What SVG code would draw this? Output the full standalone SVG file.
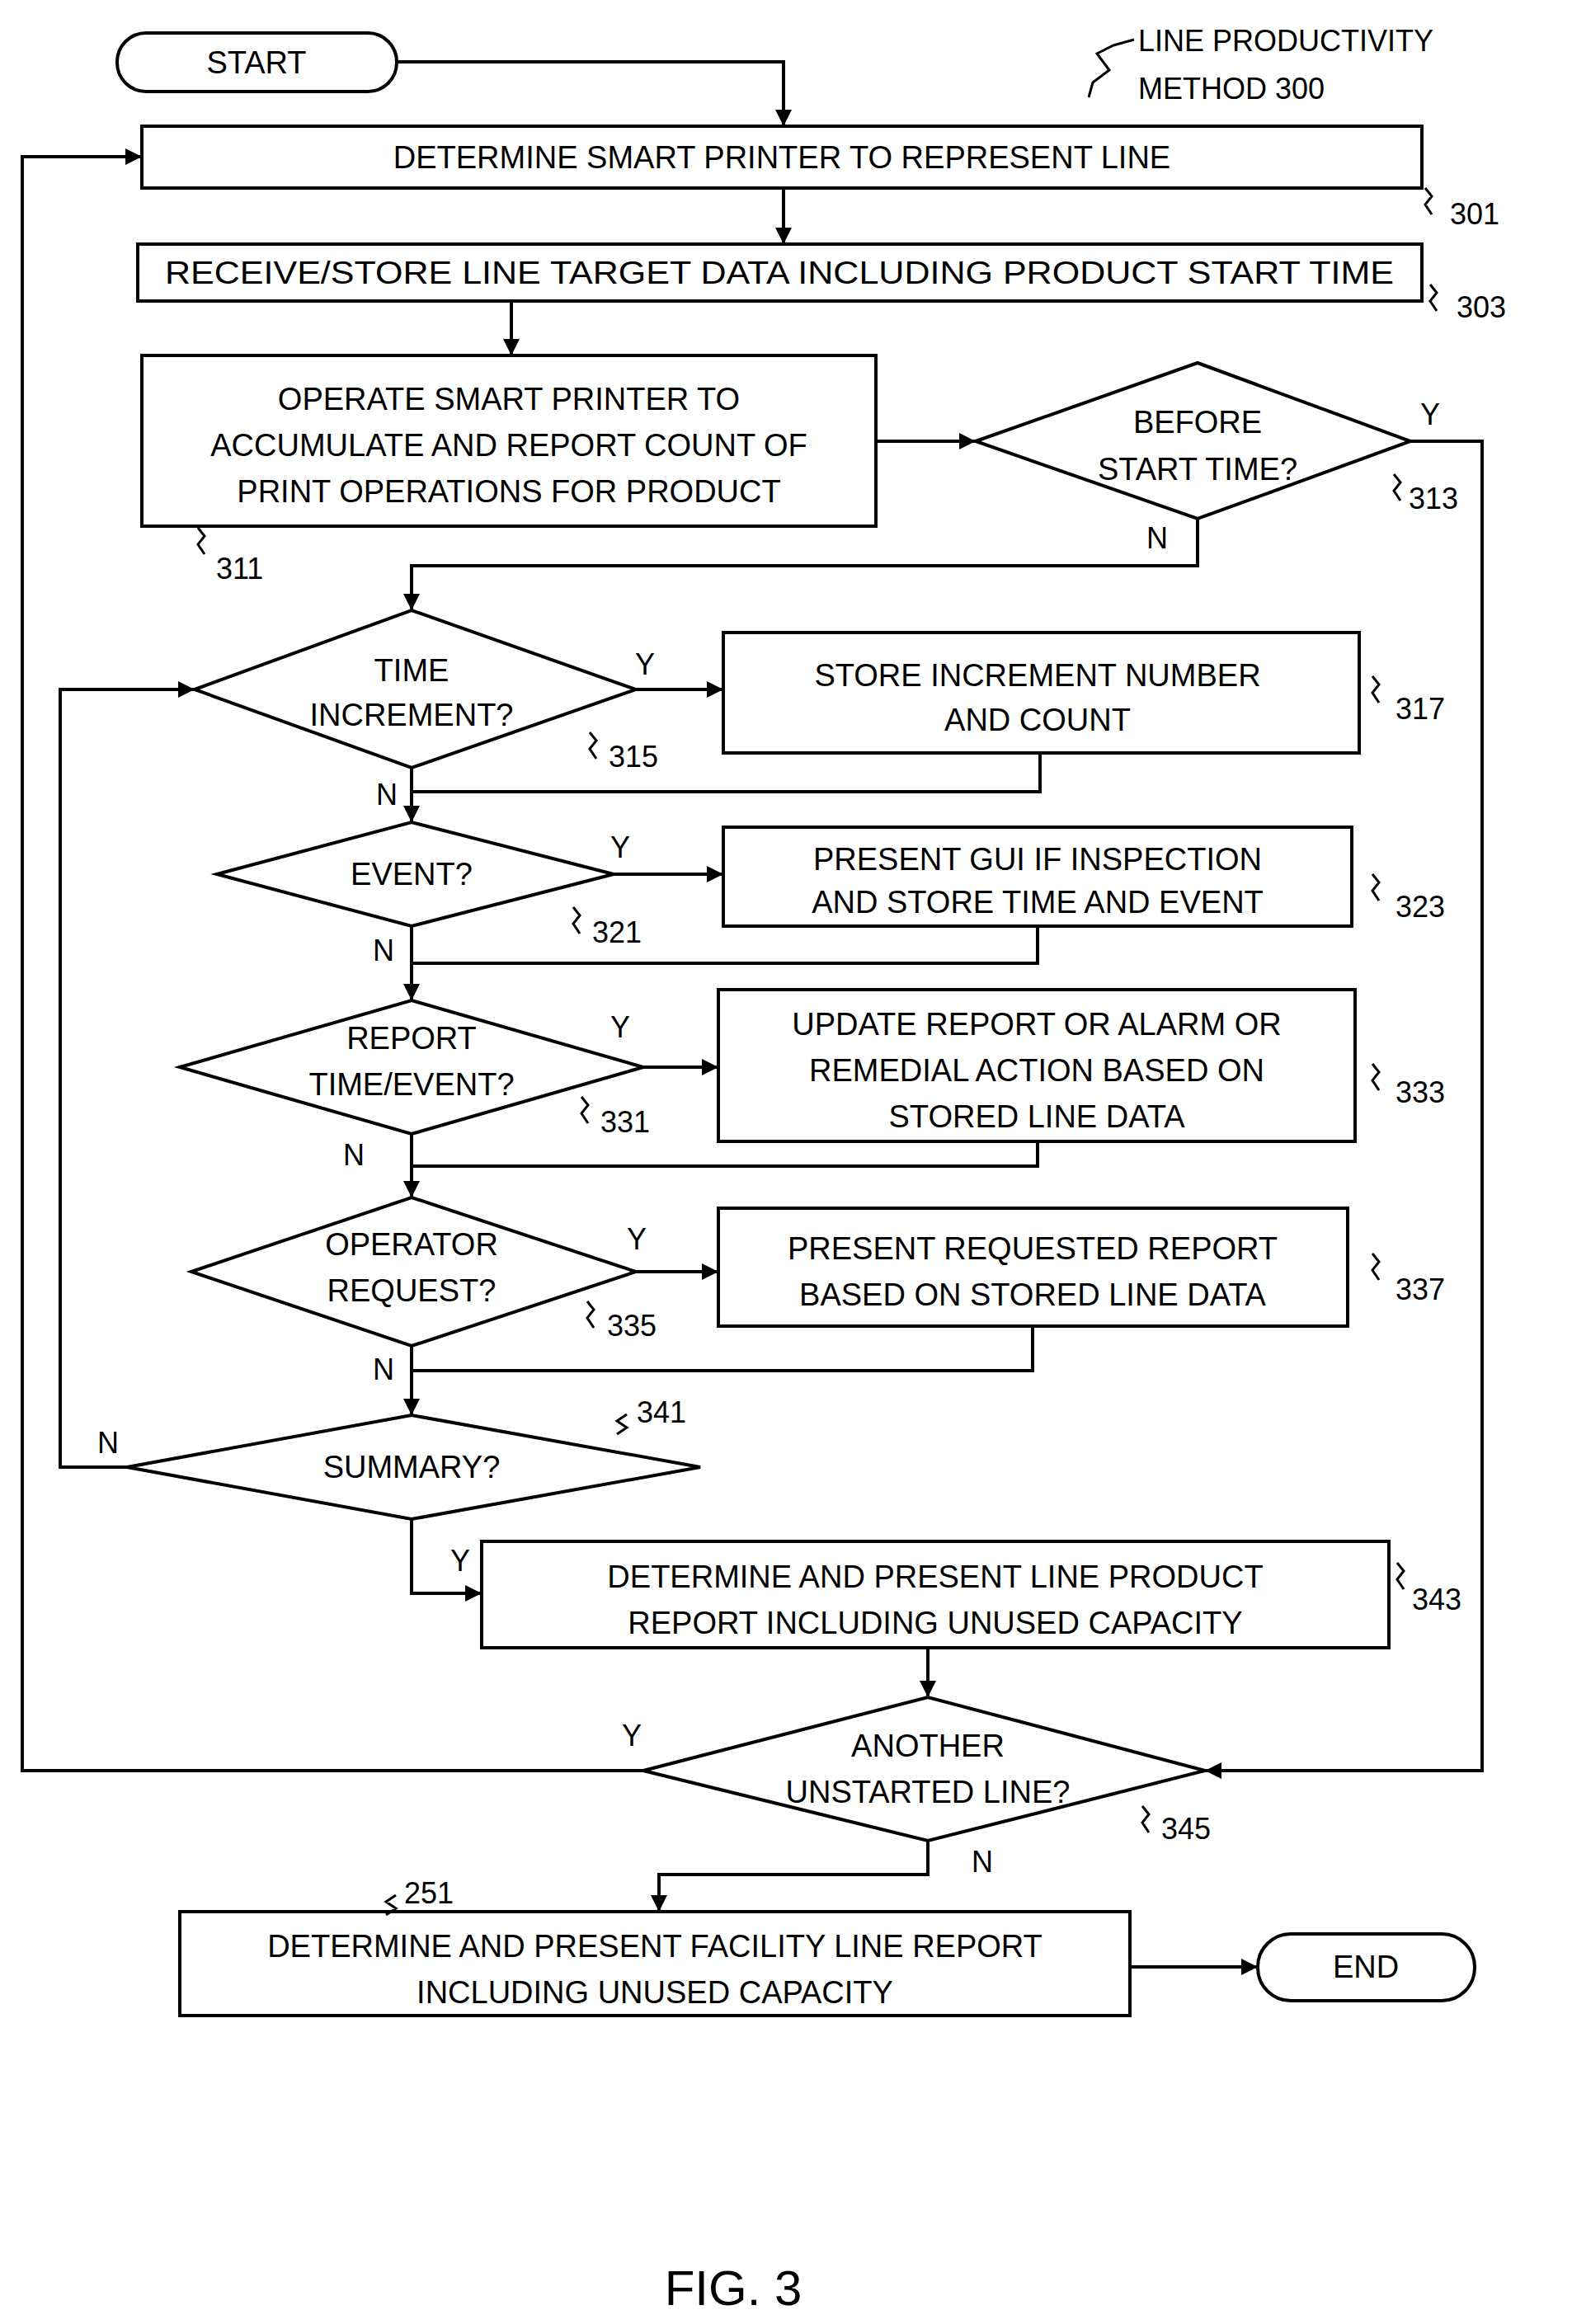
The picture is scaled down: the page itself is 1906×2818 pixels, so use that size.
<svg xmlns="http://www.w3.org/2000/svg" width="1906" height="2818" viewBox="0 0 1906 2818">
<style>
.s{fill:#fff;stroke:#000;stroke-width:4}
.c{fill:none;stroke:#000;stroke-width:4}
.t{font-family:"Liberation Sans",Arial,sans-serif;font-size:38px;text-anchor:middle;fill:#000}
.l{font-family:"Liberation Sans",Arial,sans-serif;font-size:36px;fill:#000}
.q{fill:none;stroke:#000;stroke-width:3}
</style>
<defs><marker id="a" viewBox="0 0 10 10" refX="10" refY="5" markerWidth="5" markerHeight="5" orient="auto"><path d="M0,0L10,5L0,10z"/></marker></defs>
<rect width="1906" height="2818" fill="#fff"/>
<g id="connectors" class="c">
<path d="M481,75H950V153" marker-end="url(#a)"/>
<path d="M950,228V296" marker-end="url(#a)"/>
<path d="M620,365V431" marker-end="url(#a)"/>
<path d="M1062,535H1183" marker-end="url(#a)"/>
<path d="M1452,629V686H499V740" marker-end="url(#a)"/>
<path d="M771,836H877" marker-end="url(#a)"/>
<path d="M1261,913V960H499"/>
<path d="M499,931V997" marker-end="url(#a)"/>
<path d="M744,1060H877" marker-end="url(#a)"/>
<path d="M1258,1123V1168H499"/>
<path d="M499,1123V1213" marker-end="url(#a)"/>
<path d="M780,1294H871" marker-end="url(#a)"/>
<path d="M1258,1384V1414H499"/>
<path d="M499,1375V1452" marker-end="url(#a)"/>
<path d="M771,1542H871" marker-end="url(#a)"/>
<path d="M1252,1608V1662H499"/>
<path d="M499,1632V1716" marker-end="url(#a)"/>
<path d="M154,1779H73V836H236" marker-end="url(#a)"/>
<path d="M499,1842V1932H584" marker-end="url(#a)"/>
<path d="M1125,1998V2058" marker-end="url(#a)"/>
<path d="M1710,535H1797V2147H1461" marker-end="url(#a)"/>
<path d="M780,2147H27V190H172" marker-end="url(#a)"/>
<path d="M1125,2232V2273H799V2318" marker-end="url(#a)"/>
<path d="M1370,2385H1525" marker-end="url(#a)"/>
</g>
<g id="start"><rect class="s" x="142" y="40" width="339" height="71" rx="35"/><text class="t" x="311" y="89">START</text></g>
<g id="n301"><rect class="s" x="172" y="153" width="1552" height="75"/><text class="t" x="948" y="204">DETERMINE SMART PRINTER TO REPRESENT LINE</text></g>
<g id="n303"><rect class="s" x="167" y="296" width="1557" height="69"/><text class="t" x="945" y="344" textLength="1490" lengthAdjust="spacingAndGlyphs">RECEIVE/STORE LINE TARGET DATA INCLUDING PRODUCT START TIME</text></g>
<g id="n311"><rect class="s" x="172" y="431" width="890" height="207"/><text class="t" x="617" y="497">OPERATE SMART PRINTER TO</text><text class="t" x="617" y="553">ACCUMULATE AND REPORT COUNT OF</text><text class="t" x="617" y="609">PRINT OPERATIONS FOR PRODUCT</text></g>
<g id="n313"><path class="s" d="M1183,535L1452,440L1710,535L1452,629Z"/><text class="t" x="1452" y="525">BEFORE</text><text class="t" x="1452" y="582">START TIME?</text></g>
<g id="n315"><path class="s" d="M236,836L499,740L771,836L499,931Z"/><text class="t" x="499" y="826">TIME</text><text class="t" x="499" y="880">INCREMENT?</text></g>
<g id="n317"><rect class="s" x="877" y="767" width="771" height="146"/><text class="t" x="1258" y="832">STORE INCREMENT NUMBER</text><text class="t" x="1258" y="886">AND COUNT</text></g>
<g id="n321"><path class="s" d="M263,1060L499,997L744,1060L499,1123Z"/><text class="t" x="499" y="1073">EVENT?</text></g>
<g id="n323"><rect class="s" x="877" y="1003" width="762" height="120"/><text class="t" x="1258" y="1055">PRESENT GUI IF INSPECTION</text><text class="t" x="1258" y="1107">AND STORE TIME AND EVENT</text></g>
<g id="n331"><path class="s" d="M218,1294L499,1213L780,1294L499,1375Z"/><text class="t" x="499" y="1272">REPORT</text><text class="t" x="499" y="1328">TIME/EVENT?</text></g>
<g id="n333"><rect class="s" x="871" y="1200" width="772" height="184"/><text class="t" x="1257" y="1255">UPDATE REPORT OR ALARM OR</text><text class="t" x="1257" y="1311">REMEDIAL ACTION BASED ON</text><text class="t" x="1257" y="1367">STORED LINE DATA</text></g>
<g id="n335"><path class="s" d="M232,1542L499,1452L771,1542L499,1632Z"/><text class="t" x="499" y="1522">OPERATOR</text><text class="t" x="499" y="1578">REQUEST?</text></g>
<g id="n337"><rect class="s" x="871" y="1465" width="763" height="143"/><text class="t" x="1252" y="1527">PRESENT REQUESTED REPORT</text><text class="t" x="1252" y="1583">BASED ON STORED LINE DATA</text></g>
<g id="n341"><path class="s" d="M154,1779L499,1716L849,1779L499,1842Z"/><text class="t" x="499" y="1792">SUMMARY?</text></g>
<g id="n343"><rect class="s" x="584" y="1869" width="1100" height="129"/><text class="t" x="1134" y="1925">DETERMINE AND PRESENT LINE PRODUCT</text><text class="t" x="1134" y="1981">REPORT INCLUDING UNUSED CAPACITY</text></g>
<g id="n345"><path class="s" d="M780,2147L1125,2058L1461,2147L1125,2232Z"/><text class="t" x="1125" y="2130">ANOTHER</text><text class="t" x="1125" y="2186">UNSTARTED LINE?</text></g>
<g id="n251"><rect class="s" x="218" y="2318" width="1152" height="126"/><text class="t" x="794" y="2373">DETERMINE AND PRESENT FACILITY LINE REPORT</text><text class="t" x="794" y="2429">INCLUDING UNUSED CAPACITY</text></g>
<g id="end"><rect class="s" x="1525" y="2345" width="263" height="81" rx="40"/><text class="t" x="1656" y="2398">END</text></g>
<g id="labels">
<text class="l" x="1380" y="62">LINE PRODUCTIVITY</text>
<text class="l" x="1380" y="120">METHOD  300</text>
<path class="q" d="M1375,48L1350,55L1330,65L1345,85L1325,100L1320,118"/>
<text class="l" x="1758" y="272">301</text><text class="l" x="1766" y="385">303</text>
<text class="l" x="262" y="702">311</text><text class="l" x="1708" y="617">313</text>
<text class="l" x="738" y="930">315</text><text class="l" x="1692" y="872">317</text>
<text class="l" x="718" y="1143">321</text><text class="l" x="1692" y="1112">323</text>
<text class="l" x="728" y="1373">331</text><text class="l" x="1692" y="1337">333</text>
<text class="l" x="736" y="1620">335</text><text class="l" x="1692" y="1576">337</text>
<text class="l" x="772" y="1725">341</text><text class="l" x="1712" y="1952">343</text>
<text class="l" x="1408" y="2230">345</text><text class="l" x="490" y="2308">251</text>
<path class="q" d="M1728,228l8,10l-8,10l8,12M1734,345l8,10l-8,10l8,12M240,640l8,10l-8,10l8,12M1690,575l8,10l-8,10l8,12M715,888l8,10l-8,10l8,12M1664,820l8,10l-8,10l8,12M695,1100l8,10l-8,10l8,12M1664,1060l8,10l-8,10l8,12M705,1330l8,10l-8,10l8,12M1664,1290l8,10l-8,10l8,12M712,1578l8,10l-8,10l8,12M1664,1520l8,10l-8,10l8,12M760,1715l-12,8l12,8l-12,8M1694,1895l8,10l-8,10l8,12M1385,2190l8,10l-8,10l8,12M480,2298l-12,8l12,8l-12,8"/>
<text class="l" x="1722" y="515">Y</text><text class="l" x="1390" y="665">N</text>
<text class="l" x="770" y="818">Y</text><text class="l" x="456" y="976">N</text>
<text class="l" x="740" y="1040">Y</text><text class="l" x="452" y="1165">N</text>
<text class="l" x="740" y="1258">Y</text><text class="l" x="416" y="1413">N</text>
<text class="l" x="760" y="1515">Y</text><text class="l" x="452" y="1673">N</text>
<text class="l" x="118" y="1762">N</text><text class="l" x="546" y="1905">Y</text>
<text class="l" x="754" y="2117">Y</text><text class="l" x="1178" y="2270">N</text>
<text class="t" x="889" y="2795" style="font-size:60px">FIG. 3</text>
</g>
</svg>
